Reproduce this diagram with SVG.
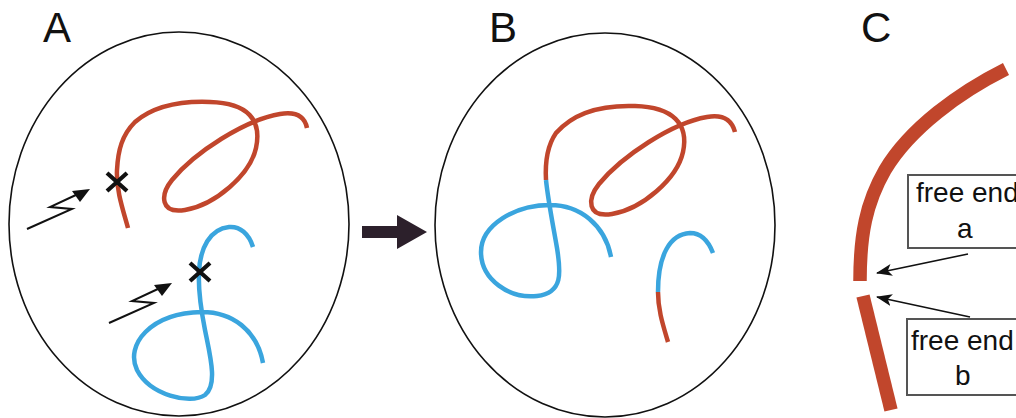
<svg xmlns="http://www.w3.org/2000/svg" width="1016" height="418" viewBox="0 0 1016 418">
  <style>
    .label { font-family: "Liberation Sans", Arial, sans-serif; font-size: 42px; fill: #111; }
    .box-text { font-family: "Liberation Sans", Arial, sans-serif; font-size: 28px; fill: #111; }
    .cell { fill: none; stroke: #111; stroke-width: 1.6; }
    .red { fill: none; stroke: #c1462c; stroke-width: 4.5; stroke-linecap: butt; }
    .blue { fill: none; stroke: #3aa5de; stroke-width: 4.5; stroke-linecap: butt; }
    .thick { fill: none; stroke: #c1462c; stroke-width: 13.5; }
    .cross { fill: none; stroke: #111; stroke-width: 4.2; }
    .bolt { fill: none; stroke: #111; stroke-width: 2; }
    .box { fill: #fff; stroke: #555; stroke-width: 2; }
    .pointer { fill: none; stroke: #111; stroke-width: 1.6; }
  </style>
  <defs>
    <marker id="barb" viewBox="0 0 16 12" refX="15" refY="6" markerWidth="16" markerHeight="12" markerUnits="userSpaceOnUse" orient="auto">
      <path d="M0,0 L16,6 L0,12 L4,6 z" fill="#111"/>
    </marker>
    <!-- lightning bolt with arrowhead, tip at origin -->
    <g id="bolt">
      <polyline class="bolt" points="-63,40 -18,20 -40,18 -12,5"/>
      <polygon points="0,0 -18,2 -10,13" fill="#111"/>
    </g>
  </defs>

  <!-- Panel A: cell with two broken chromosomes -->
  <g id="panel-a">
    <text class="label" x="43" y="42">A</text>
    <ellipse class="cell" cx="179" cy="224" rx="170" ry="192"/>
    <path class="red" d="M128,228 C123,210 116,190 117,170 C118,150 122,135 135,122 C155,105 185,101 210,102 C248,103 262,120 256,148 C250,175 215,205 185,210 C160,214 160,195 172,180 C195,152 245,120 280,114 C298,111 305,118 307,128"/>
    <path class="blue" d="M253,247 C249,234 240,226 229,227 C210,229 200,248 199,272 C198,292 201,310 205,330 C210,355 218,385 205,395 C190,405 150,395 137,370 C125,345 150,313 202,312 C232,312 257,330 263,363"/>
    <path class="cross" d="M107,173 L127,191 M127,173 L107,191"/>
    <path class="cross" d="M190,263 L210,281 M210,263 L190,281"/>
    <use href="#bolt" x="90" y="189"/>
    <use href="#bolt" x="172" y="283"/>
  </g>

  <!-- transition arrow -->
  <g id="connectors">
    <polygon id="step-arrow" points="362,226 397,226 397,215 427,232 397,249 397,238 362,238" fill="#2c202b"/>
  </g>

  <!-- Panel B: rejoined chromosomes -->
  <g id="panel-b">
    <text class="label" x="489" y="42">B</text>
    <ellipse class="cell" cx="605" cy="225" rx="170" ry="192"/>
    <path class="red" d="M546,180 C545,162 547,146 556,133 C576,110 606,105 635,106 C673,107 689,124 683,152 C677,179 642,209 612,214 C587,218 587,199 599,184 C622,156 672,123 707,117 C725,114 732,121 735,132"/>
    <path class="blue" d="M546,180 C548,200 553,225 557,248 C561,273 563,293 537,296 C510,299 481,280 481,252 C481,225 515,205 550,205 C580,205 605,225 611,257"/>
    <path class="blue" d="M713,253 C708,240 700,233 690,233 C670,234 658,255 658,292"/>
    <path class="red" d="M658,292 C658,310 663,325 668,342"/>
  </g>

  <!-- Panel C: close-up of the two free ends -->
  <g id="panel-c">
    <text class="label" x="861" y="42">C</text>
    <path class="thick" d="M1006,69 C960,92 910,128 885,170 C866,203 860,235 860,281"/>
    <path class="thick" d="M863,296 L891,410"/>
  </g>

  <g id="end-a">
    <rect class="box" x="908" y="175" width="120" height="73"/>
    <text class="box-text" x="916" y="202">free end</text>
    <text class="box-text" x="957" y="238">a</text>
  </g>
  <g id="end-b">
    <rect class="box" x="907" y="319" width="120" height="76"/>
    <text class="box-text" x="911" y="350">free end</text>
    <text class="box-text" x="955" y="385">b</text>
  </g>

  <g id="pointers">
    <line class="pointer" x1="968" y1="254" x2="877" y2="273" marker-end="url(#barb)"/>
    <line class="pointer" x1="970" y1="317" x2="877" y2="297" marker-end="url(#barb)"/>
  </g>
</svg>
